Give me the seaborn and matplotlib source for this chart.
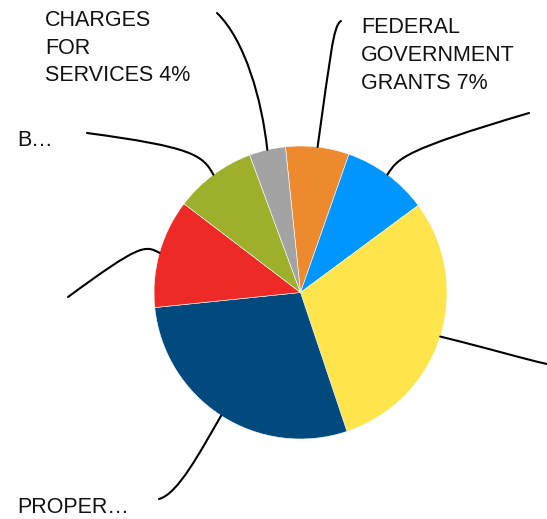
import matplotlib
matplotlib.use("Agg")
import matplotlib.pyplot as plt
from matplotlib.path import Path
from matplotlib.patches import PathPatch
import numpy as np
import seaborn as sns

# Revenue sources, in drawing order (clockwise from the top)
categories = [
    "FEDERAL GOVERNMENT GRANTS",
    "STATE GRANTS",
    "SALES TAXES",
    "PROPERTY TAXES",
    "OTHER REVENUE",
    "BUSINESS TAXES",
    "CHARGES FOR SERVICES",
]
shares = [7, 9.5, 30, 28.5, 12, 9, 4]
colors = ["#EE8A2E", "#0096FF", "#FFE44C", "#024A7E", "#EE2A26", "#9DAF2B", "#A3A3A3"]

# Label text shown beside each slice (None = label falls outside the canvas)
label_lines = [
    ["FEDERAL", "GOVERNMENT", "GRANTS 7%"],
    None,
    None,
    ["PROPER…"],
    None,
    ["B…"],
    ["CHARGES", "FOR", "SERVICES 4%"],
]

W, H = 547, 519
sns.set_theme(style="white")
plt.rcParams["font.family"] = ["Liberation Sans", "DejaVu Sans"]

fig = plt.figure(figsize=(W / 100, H / 100), dpi=100)
ax = fig.add_axes([0, 0, 1, 1])

cx, cy, R = 300.5, H - 292.5, 146.5
wedges, _ = ax.pie(
    shares,
    colors=sns.color_palette(colors),
    startangle=95.9,
    counterclock=False,
    center=(cx, cy),
    radius=R,
    wedgeprops=dict(edgecolor="white", linewidth=0.4),
)
ax.set_xlim(0, W)
ax.set_ylim(0, H)
ax.set_aspect("equal")
ax.axis("off")


def px(x, y):
    return (x, H - y)


# Leader-line shapes (pixel offsets of control points and end point), per slice
leaders = [
    [(330, 60), (333, 25), (341, 21)],
    [(398, 158), (404, 150), (529, 113)],
    [(495, 350), (520, 358), (547, 364)],
    [(200, 452), (178, 494), (159, 499)],
    [(145, 245), (140, 244), (68, 297)],
    [(203, 155), (192, 147), (87, 133)],
    [(262, 100), (245, 40), (217, 13)],
]

for w, ctrl in zip(wedges, leaders):
    mid = np.deg2rad((w.theta1 + w.theta2) / 2)
    start = (cx + R * np.cos(mid), cy + R * np.sin(mid))
    verts = [start] + [px(*p) for p in ctrl]
    codes = [Path.MOVETO, Path.CURVE4, Path.CURVE4, Path.CURVE4]
    ax.add_patch(PathPatch(Path(verts, codes), fill=False, edgecolor="black",
                           linewidth=1.5, capstyle="round"))

# Label anchors: left x and first baseline (pixels), line step
label_pos = [
    (361, 33, 28),
    None,
    None,
    (17, 513, 28),
    None,
    (17, 146, 28),
    (45, 26, 27.5),
]

for lines, pos in zip(label_lines, label_pos):
    if lines is None:
        continue
    x0, y0, step = pos
    for i, t in enumerate(lines):
        ax.text(*px(x0, y0 + i * step), t, fontsize=15.5, color="#111111",
                ha="left", va="baseline")

fig.savefig("out.png", dpi=100, facecolor="white")
